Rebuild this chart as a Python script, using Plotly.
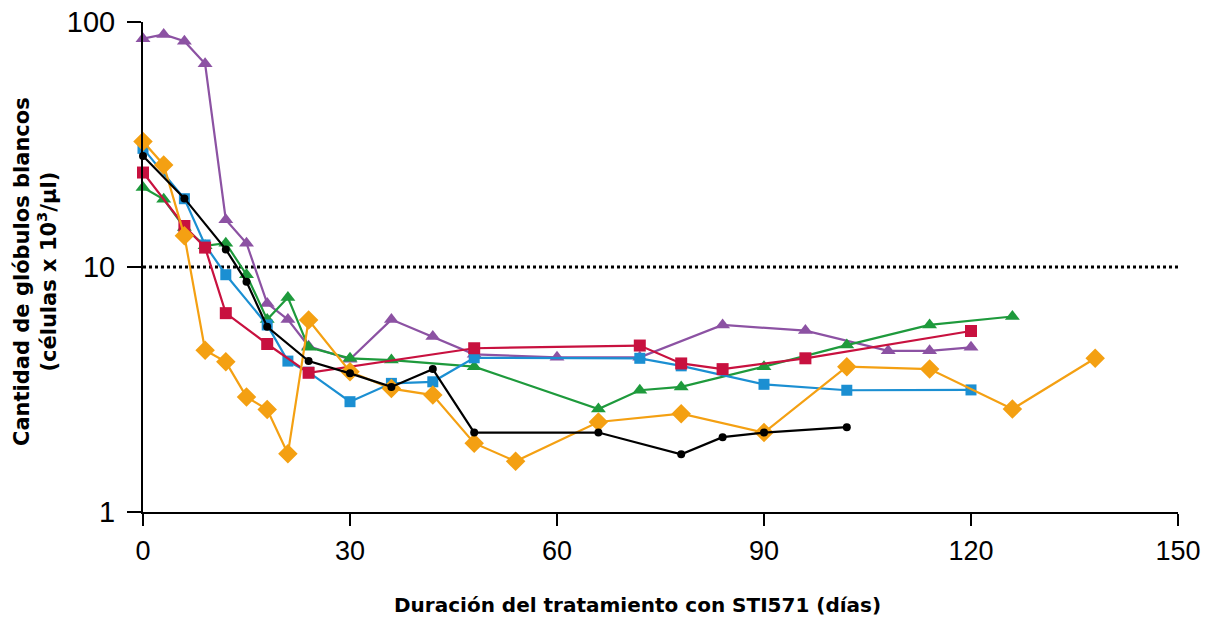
import plotly.graph_objects as go

# ---- data (days, WBC x10^3/µl) ----
purple_days = [0, 3, 6, 9, 12, 15, 18, 21, 24, 30, 36, 42, 48, 60, 72, 84, 96, 108, 114, 120]
purple_vals = [85.5, 89, 83.5, 67.5, 15.6, 12.5, 7.1, 6.1, 4.75, 4.2, 6.1, 5.2, 4.4, 4.28, 4.28, 5.8, 5.5, 4.55, 4.55, 4.7]

green_days = [0, 3, 6, 9, 12, 15, 18, 21, 24, 30, 36, 48, 66, 72, 78, 90, 102, 114, 126]
green_vals = [21.1, 18.9, 14.5, 12.2, 12.5, 9.3, 6.1, 7.5, 4.7, 4.24, 4.17, 3.92, 2.63, 3.14, 3.24, 3.92, 4.8, 5.8, 6.28]

blue_days = [0, 6, 9, 12, 18, 21, 24, 30, 36, 42, 48, 72, 78, 90, 102, 120]
blue_vals = [30.5, 19, 12.3, 9.3, 5.8, 4.13, 3.72, 2.82, 3.35, 3.4, 4.26, 4.24, 3.95, 3.32, 3.14, 3.15]

red_days = [0, 6, 9, 12, 18, 24, 48, 72, 78, 84, 96, 120]
red_vals = [24.3, 14.7, 12.0, 6.48, 4.85, 3.7, 4.66, 4.78, 4.04, 3.83, 4.24, 5.48]

orange_days = [0, 3, 6, 9, 12, 15, 18, 21, 24, 30, 36, 42, 48, 54, 66, 78, 90, 102, 114, 126, 138]
orange_vals = [32.5, 26.1, 13.4, 4.57, 4.1, 2.95, 2.62, 1.73, 6.08, 3.74, 3.19, 3.0, 1.91, 1.61, 2.33, 2.52, 2.11, 3.92, 3.83, 2.63, 4.24]

black_days = [0, 6, 12, 15, 18, 24, 30, 36, 42, 48, 66, 78, 84, 90, 102]
black_vals = [28.4, 19.05, 11.8, 8.7, 5.7, 4.13, 3.68, 3.24, 3.83, 2.11, 2.11, 1.72, 2.02, 2.11, 2.22]

threshold = 10
x_ticks = [0, 30, 60, 90, 120, 150]
y_ticks = [1, 10, 100]
y_tick_text = ["1", "10", "100"]

x_title = "<b>Duración del tratamiento con STI571 (días)</b>"
y_title = "<b>Cantidad de glóbulos blancos<br>(células x 10<sup>3</sup>/µl)</b>"

series = [
    (purple_days, purple_vals, "#8C52A3", "triangle-up", 13),
    (green_days, green_vals, "#1E9A3C", "triangle-up", 13),
    (blue_days, blue_vals, "#1B8FD2", "square", 11),
    (red_days, red_vals, "#C8113F", "square", 12),
    (orange_days, orange_vals, "#F4A012", "diamond", 15),
    (black_days, black_vals, "#000000", "circle", 8),
]

fig = go.Figure()

fig.add_trace(go.Scatter(
    x=[x_ticks[0], x_ticks[-1]], y=[threshold, threshold], mode="lines",
    line=dict(color="black", width=3, dash="dot"), showlegend=False, hoverinfo="skip"))

for d, v, c, sym, sz in series:
    fig.add_trace(go.Scatter(
        x=d, y=v, mode="lines+markers",
        line=dict(color=c, width=2.2),
        marker=dict(color=c, symbol=sym, size=sz, line=dict(width=0)),
        showlegend=False, cliponaxis=False))

fig.update_layout(
    width=1214, height=619,
    margin=dict(l=143, r=36, t=22, b=107),
    paper_bgcolor="white", plot_bgcolor="white",
    font=dict(family="Liberation Sans, Arial, sans-serif", color="black"),
    xaxis=dict(
        range=[0, 150], tickvals=x_ticks, ticks="outside", ticklen=12, tickwidth=2,
        tickcolor="black", showline=True, linecolor="black", linewidth=2,
        showgrid=False, zeroline=False, automargin=False, ticklabelstandoff=2,
        ticklabeloverflow="allow",
        tickfont=dict(family="Liberation Sans, Arial, sans-serif", size=27),
    ),
    yaxis=dict(
        type="log", range=[0, 2], tickvals=y_ticks, ticktext=y_tick_text,
        ticks="outside", ticklen=14, tickwidth=2, tickcolor="black",
        showline=True, linecolor="black", linewidth=2, showgrid=False, zeroline=False,
        automargin=False, ticklabelstandoff=6, ticklabeloverflow="allow",
        tickfont=dict(family="Liberation Sans, Arial, sans-serif", size=29),
    ),
    annotations=[
        dict(text=x_title, xref="paper", yref="paper", x=0.478, y=0,
             xanchor="center", yanchor="middle", yshift=-93, showarrow=False,
             font=dict(family="DejaVu Sans, sans-serif", size=20)),
        dict(text=y_title, xref="paper", yref="paper", x=0, y=0.5,
             xanchor="center", yanchor="middle", xshift=-108, yshift=-5,
             textangle=-90, showarrow=False,
             font=dict(family="DejaVu Sans, sans-serif", size=21)),
    ],
)

fig.write_html("out.html", config={"displayModeBar": False},
               post_script="document.body.style.margin='0';document.body.style.overflow='hidden';")
